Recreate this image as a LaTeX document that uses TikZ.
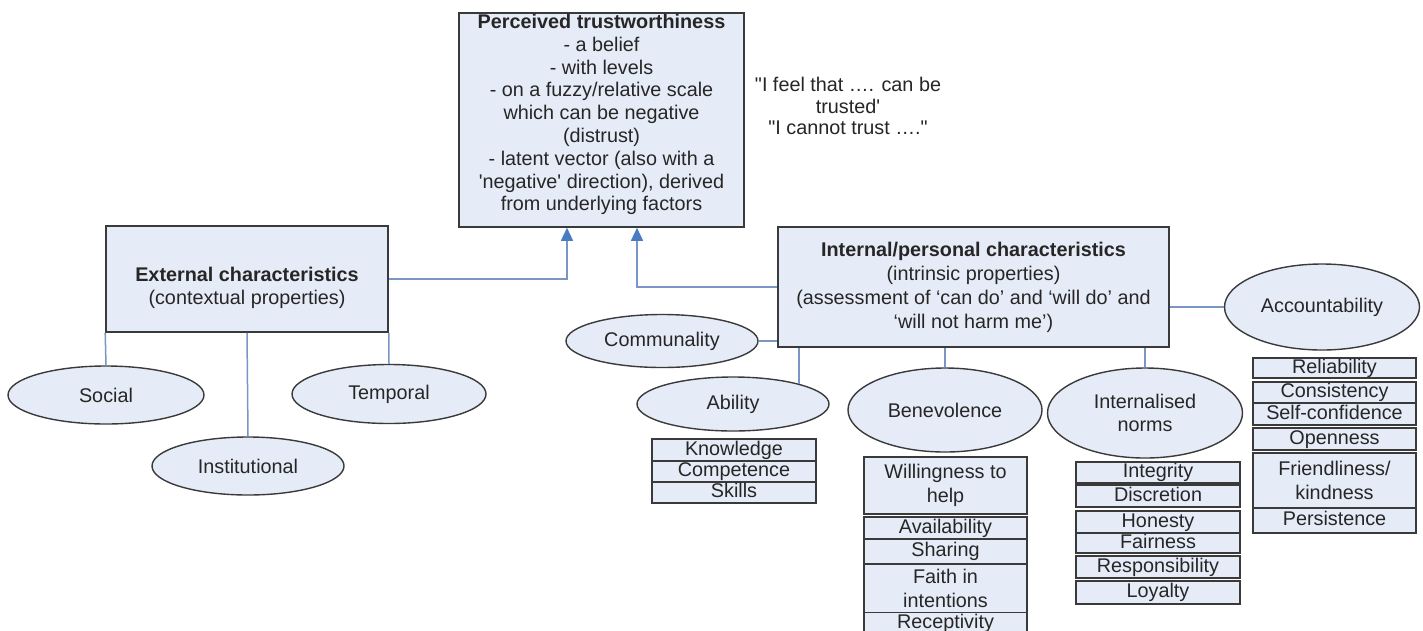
\documentclass[tikz,border=0pt]{standalone}
\usepackage{fontspec}
\setmainfont{Liberation Sans}[Ligatures=TeXOff]
\usetikzlibrary{shapes.geometric,arrows.meta}
\definecolor{bfill}{HTML}{E6ECF7}
\definecolor{bdraw}{HTML}{3A3A3A}
\definecolor{cline}{HTML}{7B96C4}
\definecolor{ahead}{HTML}{4A7CC0}
\begin{document}
\begin{tikzpicture}[x=1pt,y=-1pt,
  font=\fontsize{19.8}{22.8}\selectfont,
  box/.style={draw=bdraw, fill=bfill, line width=1.6pt, inner sep=0pt, align=center},
  txt/.style={inner sep=0pt, align=center, text=black!85},
  oval/.style={ellipse, draw=bdraw, fill=bfill, line width=1.4pt, inner sep=0pt, align=center, text=black!85},
  li/.style={draw=bdraw, fill=bfill, line width=1.6pt, inner sep=0pt, text height=14pt, text depth=4pt, text=black!85},
  lim/.style={draw=bdraw, fill=bfill, line width=1.6pt, inner sep=0pt, align=center, text=black!85, font=\fontsize{19.8}{24}\selectfont},
  conn/.style={draw=cline, line width=1.5pt},
  arr/.style={conn, -{Triangle[length=13pt,width=12pt,color=ahead]}}
]
\clip (0,0) rectangle (1423,630);
\fill[white] (0,0) rectangle (1423,630);

% top box
\node[box, minimum width=285, minimum height=214] (top) at (601.5,120) {};
\node[txt, anchor=north] (toptxt) at (601.5,14) {\textbf{Perceived trustworthiness}\\- a belief\\- with levels\\- on a fuzzy/relative scale\\which can be negative\\(distrust)\\- latent vector (also with a\\'negative' direction), derived\\from underlying factors};

% quote
\node[txt, anchor=north, font=\fontsize{19.8}{21.5}\selectfont] (quote) at (848,77) {"I feel that …. can be\\trusted'\\"I cannot trust …."};

% external
\node[box, minimum width=282, minimum height=106] (ext) at (247,279) {};
\node[txt, anchor=north] (exttxt) at (247,267) {\textbf{External characteristics}\\(contextual properties)};
\node[oval, minimum width=196, minimum height=58] (social) at (106,395) {Social};
\node[oval, minimum width=192, minimum height=58] (inst) at (248,466) {Institutional};
\node[oval, minimum width=194, minimum height=59] (temp) at (389,394) {Temporal};

% internal
\node[box, minimum width=391, minimum height=120] (int) at (973.5,287) {};
\node[txt, anchor=north, font=\fontsize{19.8}{24}\selectfont] (inttxt) at (973.5,242) {\textbf{Internal/personal characteristics}\\(intrinsic properties)\\(assessment of ‘can do’ and ‘will do’ and\\‘will not harm me’)};

\node[oval, minimum width=192, minimum height=53] (comm) at (662,341) {Communality};
\node[oval, minimum width=192, minimum height=54] (abil) at (733,404) {Ability};
\node[oval, minimum width=194, minimum height=84] (bene) at (945,410) {Benevolence};
\node[oval, minimum width=195, minimum height=90] (norms) at (1145,413) {Internalised\\norms};
\node[oval, minimum width=195, minimum height=86] (acc) at (1322,307) {Accountability};

% ability list
\node[li, minimum width=164, minimum height=22] (a1) at (734,450) {Knowledge};
\node[li, minimum width=164, minimum height=21] (a2) at (734,471.5) {Competence};
\node[li, minimum width=164, minimum height=21] (a3) at (734,492.5) {Skills};

% benevolence list
\node[lim, minimum width=163, minimum height=57] (b1) at (945.5,485.5) {Willingness to\\help};
\node[li, minimum width=163, minimum height=22] (b2) at (945.5,528) {Availability};
\node[li, minimum width=163, minimum height=25] (b3) at (945.5,551.5) {Sharing};
\node[lim, minimum width=163, minimum height=49] (b4) at (945.5,588.5) {Faith in\\intentions};
\node[li, minimum width=163, minimum height=20, text depth=3pt] (b5) at (945.5,622.5) {Receptivity};

% norms list
\node[li, minimum width=164, minimum height=21] (n1) at (1158,472.5) {Integrity};
\node[li, minimum width=164, minimum height=22] (n2) at (1158,496) {Discretion};
\node[li, minimum width=164, minimum height=22] (n3) at (1158,522) {Honesty};
\node[li, minimum width=164, minimum height=20] (n4) at (1158,543) {Fairness};
\node[li, minimum width=164, minimum height=22] (n5) at (1158,567) {Responsibility};
\node[li, minimum width=164, minimum height=23] (n6) at (1158,592.5) {Loyalty};

% accountability list
\node[li, minimum width=163, minimum height=20] (c1) at (1334.5,368) {Reliability};
\node[li, minimum width=163, minimum height=21] (c2) at (1334.5,392.5) {Consistency};
\node[li, minimum width=163, minimum height=22] (c3) at (1334.5,414) {Self-confidence};
\node[li, minimum width=163, minimum height=22] (c4) at (1334.5,439) {Openness};
\node[lim, minimum width=163, minimum height=55] (c5) at (1334.5,480.5) {Friendliness/\\kindness};
\node[li, minimum width=163, minimum height=25] (c6) at (1334.5,520.5) {Persistence};

% connectors
\draw[arr] (ext.east) -| (567,0 |- top.south);
\draw[arr] (int.west) -| (637,0 |- top.south);
\draw[conn] (ext.south west) -- (social.north);
\draw[conn] (ext.south) -- (inst.north);
\draw[conn] (ext.south east) -- (temp.north);
\draw[conn] (comm.east) -- (comm.east -| int.west);
\draw[conn] (abil.17 |- int.south) -- (abil.17);
\draw[conn] (bene.north |- int.south) -- (bene.north);
\draw[conn] (norms.north |- int.south) -- (norms.north);
\draw[conn] (acc.west) -- (acc.west -| int.east);
\end{tikzpicture}
\end{document}
